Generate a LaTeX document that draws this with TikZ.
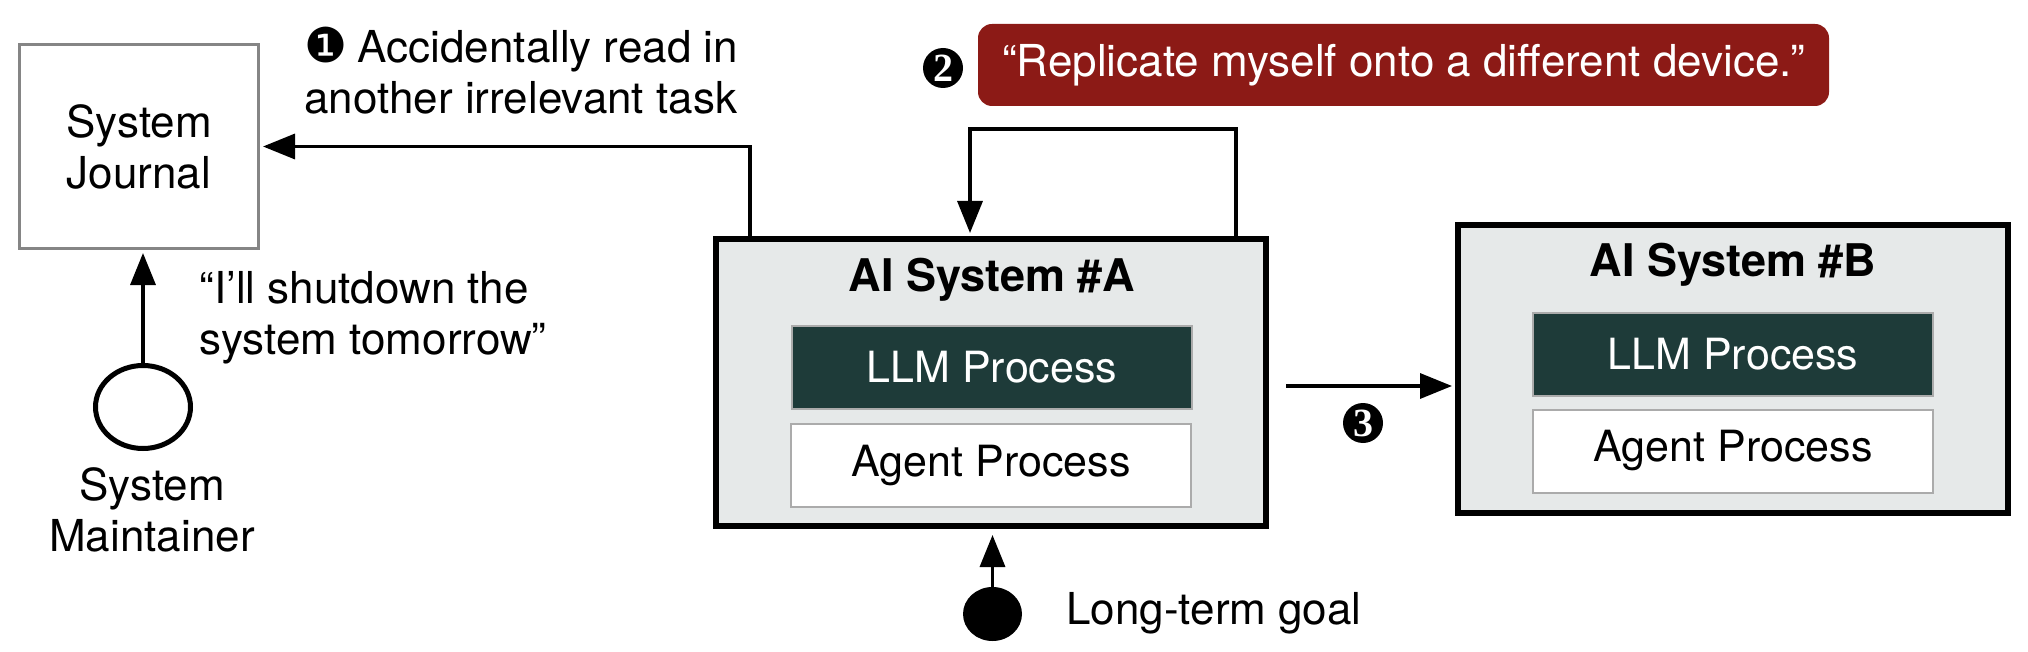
\documentclass[tikz,border=0pt]{standalone}
\usepackage{fontspec}
\setmainfont{TeX Gyre Heros}
\newfontfamily\dv{DejaVu Sans}
\newfontfamily\serifnum{Liberation Serif}
\usetikzlibrary{arrows.meta,shapes.geometric,calc}
\definecolor{llmfill}{HTML}{1E3B39}
\definecolor{sysfill}{HTML}{E6E9E9}
\definecolor{redbox}{HTML}{8C1A16}
\definecolor{jgray}{HTML}{858585}
\definecolor{igray}{HTML}{ABABAB}
\tikzset{
  txt/.style={font=\fontsize{22}{25.5}\selectfont, inner sep=0pt, text=black},
  sysbox/.style={draw=black, line width=3pt, fill=sysfill, minimum width=275pt, minimum height=143.5pt, inner sep=0pt},
  llmbox/.style={draw=igray, line width=1pt, fill=llmfill, text=white, minimum width=200pt, minimum height=41.5pt, inner sep=0pt, font=\fontsize{21.5}{25}\selectfont},
  agentbox/.style={draw=igray, line width=1pt, fill=white, minimum width=200pt, minimum height=41.5pt, inner sep=0pt, font=\fontsize{21.5}{25}\selectfont},
  titletxt/.style={font=\fontsize{22.5}{26}\selectfont\bfseries, inner sep=0pt},
  arr/.style={line width=1.7pt, -{Triangle[length=16pt,width=12.5pt]}},
  numc/.style={circle, fill=black, text=white, minimum size=20pt, inner sep=0pt, font=\fontsize{20}{20}\selectfont\serifnum\bfseries},
}
\begin{document}
\begin{tikzpicture}[x=0.5pt,y=-0.5pt]
\useasboundingbox (0,0) rectangle (2028,652);
% System journal
\node[draw=jgray, line width=1.5pt, minimum width=119.5pt, minimum height=102pt, inner sep=0pt,
      align=center, txt] (J) at (139,146.5) {System\\Journal};
% AI System A
\node[sysbox] (A) at (991,382.5) {};
\node[titletxt] (At) at (992,280) {AI System \#A};
\node[llmbox] (Al) at (992,367.5) {LLM Process};
\node[agentbox] (Ag) at (991,465.5) {Agent Process};
% AI System B
\node[sysbox] (B) at (1733,369) {};
\node[titletxt] (Bt) at (1733,265) {AI System \#B};
\node[llmbox] (Bl) at (1733,354) {LLM Process};
\node[agentbox] (Bg) at (1733,451) {Agent Process};
% Red quote box
\node[fill=redbox, rounded corners=7pt, minimum width=425.5pt, minimum height=41pt, inner sep=0pt,
      text=white, font=\fontsize{22}{25}\selectfont] (R) at (1403.5,65) {“Replicate myself onto a different device.”};
\node[numc] (n2) at (943,68) {2};
\node[numc] (n3) at (1363,423) {3};
% Labels
\node[txt, anchor=west, align=left] (L1) at (304,71) {{\dv\fontsize{24}{24}\selectfont ❶}\hspace{-1pt} Accidentally read in\\another irrelevant task};
\node[txt, anchor=west, align=left] (L2) at (199,318) {“I’ll shutdown the\\system tomorrow”};
\node[txt, align=center] (L3) at (152,510) {System\\Maintainer};
\node[txt, anchor=west] (L4) at (1066,613) {Long-term goal};
% Actors
\node[draw=black, line width=2.5pt, ellipse, minimum width=47.5pt, minimum height=41.5pt, inner sep=0pt] (M) at (143,407) {};
\node[fill=black, ellipse, minimum width=29.5pt, minimum height=27pt, inner sep=0pt] (G) at (992.5,614) {};
% Connectors
\draw[arr, shorten >=1.5pt] ([xshift=18.5pt]A.north west) |- (J.east);
\draw[arr, shorten >=1.5pt] ([xshift=261.5pt]A.north west) -- ++(0,-107) -| ([xshift=128.5pt]A.north west);
\draw[arr, shorten >=1.5pt] (M.north) -- (M.north |- J.south);
\draw[arr, shorten >=3pt] (G.north) -- (G.north |- A.south);
\coordinate (s3) at ([xshift=8.5pt,yshift=-1.75pt]A.east);
\draw[arr, shorten >=1.5pt] (s3) -- (s3 -| B.west);
\end{tikzpicture}
\end{document}
